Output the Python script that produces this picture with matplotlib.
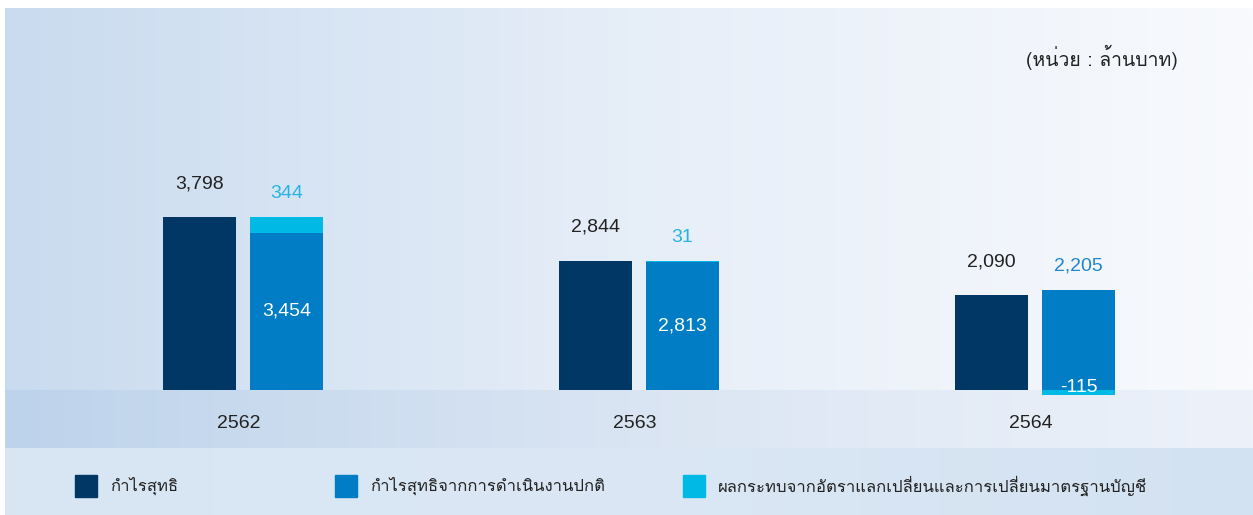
import numpy as np
import matplotlib
matplotlib.use("Agg")
import matplotlib.pyplot as plt
from matplotlib import font_manager, ft2font
from matplotlib.patches import Rectangle

# data (million baht)
years = ["2562", "2563", "2564"]
net_profit = [3798, 2844, 2090]
normal_profit = [3454, 2813, 2205]
fx_effect = [344, 31, -115]
net_labels = ["3,798", "2,844", "2,090"]
top_labels = ["344", "31", "2,205"]
inner_labels = ["3,454", "2,813", "-115"]
legend_labels = ["กำไรสุทธิ", "กำไรสุทธิจากการดำเนินงานปกติ",
                 "ผลกระทบจากอัตราแลกเปลี่ยนและการเปลี่ยนมาตรฐานบัญชี"]
unit_label = "(หน่วย : ล้านบาท)"

NAVY = "#003764"
BLUE = "#007dc5"
CYAN = "#00b9e4"

# find a font with Thai glyphs, if any
thai_font = None
for f in font_manager.fontManager.ttflist:
    try:
        if 0x0E01 in ft2font.FT2Font(f.fname).get_charmap():
            thai_font = f.name
            break
    except Exception:
        pass
num_family = ["Liberation Sans", "DejaVu Sans"]
thai_family = ([thai_font] if thai_font else []) + ["DejaVu Sans"]

W, H = 1253, 515
fig = plt.figure(figsize=(W / 100, H / 100), dpi=100)
fig.patch.set_facecolor("white")

# background with gradients (pixel coordinates)
bg = fig.add_axes([0, 0, 1, 1])
bg.set_xlim(0, W)
bg.set_ylim(H, 0)
bg.axis("off")


def gradient(c_left, c_mid, c_right, y0, y1):
    c_left, c_mid, c_right = [np.array(c) / 255 for c in (c_left, c_mid, c_right)]
    t = np.linspace(0, 1, 400)[:, None]
    cols = np.where(t < 0.5, c_left + (c_mid - c_left) * t * 2,
                    c_mid + (c_right - c_mid) * (t - 0.5) * 2)
    bg.imshow(cols[None, :, :], extent=(5, W, y1, y0), aspect="auto",
              interpolation="bilinear", zorder=0)


gradient((201, 219, 239), (230, 238, 248), (248, 250, 253), 8, 390)
gradient((189, 211, 235), (218, 229, 243), (237, 242, 250), 390, 448)
gradient((216, 230, 244), (219, 231, 244), (211, 226, 242), 448, H)
bg.set_xlim(0, W)
bg.set_ylim(H, 0)

# bar axes
ax = fig.add_axes([5 / W, (H - 390) / H, 1248 / W, 382 / H])
ax.patch.set_alpha(0)
ax.axis("off")
x = np.arange(len(years))
w = 0.184
off = 0.11
ax.set_xlim(-0.601, -0.601 + 1248 / 396)
ax.set_ylim(0, 8400)

ax.bar(x - off, net_profit, w, color=NAVY, zorder=2)
ax.bar(x + off, normal_profit, w, color=BLUE, zorder=2)
fx_bottom = [n if v > 0 else 0 for n, v in zip(normal_profit, fx_effect)]
ax.bar(x + off, fx_effect, w, bottom=fx_bottom, color=CYAN, zorder=2, clip_on=False)

top_colors = ["#27b4e2", "#27b4e2", "#1f86cc"]
for i in range(len(years)):
    ax.annotate(net_labels[i], (x[i] - off, net_profit[i]), xytext=(0, 24),
                textcoords="offset points", ha="center", va="center",
                fontsize=14, color="#222222", family=num_family)
    total = normal_profit[i] + max(fx_effect[i], 0)
    ax.annotate(top_labels[i], (x[i] + off, total), xytext=(0, 17),
                textcoords="offset points", ha="center", va="center",
                fontsize=14, color=top_colors[i], family=num_family)
    if fx_effect[i] > 0:
        ax.text(x[i] + off, normal_profit[i] / 2, inner_labels[i], ha="center",
                va="center", fontsize=14, color="white", family=num_family, zorder=3)
    else:
        ax.annotate(inner_labels[i], (x[i] + off, 0), xytext=(0, 2),
                    textcoords="offset points", ha="center", va="center",
                    fontsize=14, color="white", family=num_family, zorder=3,
                    annotation_clip=False)
    ax.text(x[i] - 0.01, -34 / 382, years[i], transform=ax.get_xaxis_transform(),
            ha="center", va="center", fontsize=14, color="#222222", family=num_family)

# unit label
bg.text(1178, 57, unit_label, ha="right", va="center", fontsize=14,
        color="#222222", family=thai_family)

# legend
for lx, col, lab in zip([75, 335, 683], [NAVY, BLUE, CYAN], legend_labels):
    bg.add_patch(Rectangle((lx, 475), 22, 22, color=col, zorder=2))
    bg.text(lx + 35, 486, lab, ha="left", va="center", fontsize=12,
            color="#222222", family=thai_family)

fig.savefig("out.png", dpi=100)
